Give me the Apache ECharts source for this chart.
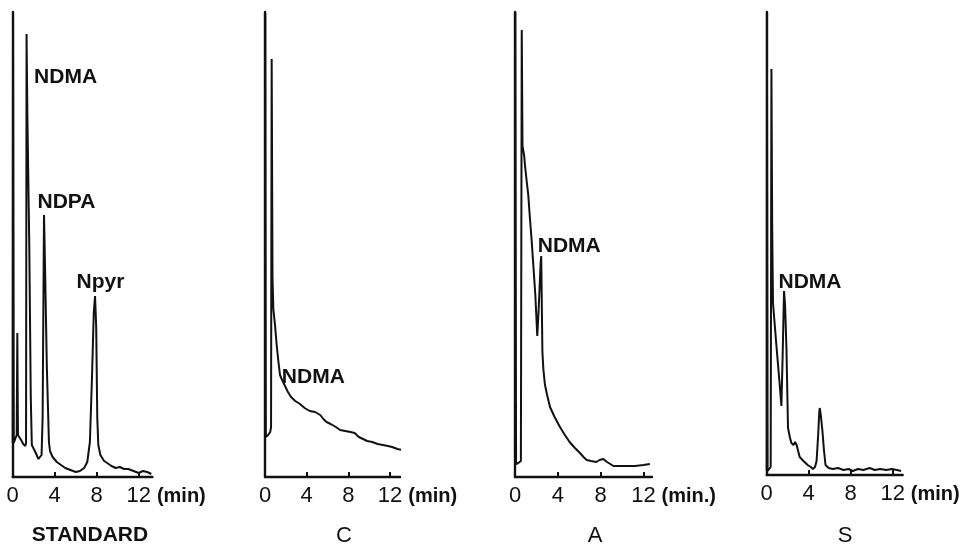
<!DOCTYPE html>
<html><head><meta charset="utf-8">
<script src="https://cdn.jsdelivr.net/npm/echarts@6/dist/echarts.min.js"></script>
<style>html,body{margin:0;padding:0;background:#fff;}#c{width:964px;height:547px;}</style>
</head><body><div id="c"></div>
<script>
// ---- data (retention time in min, detector response in arbitrary units) ----
const tickValues = [0, 4, 8, 12];
const panelTitles = ['STANDARD', 'C', 'A', 'S'];
const unitLabels = ['(min)', '(min)', '(min.)', '(min)'];

const stdTime   = [0, 0.03, 0.1, 0.25, 0.38, 0.44, 0.5, 0.6, 0.8, 1.0, 1.2, 1.27, 1.32, 1.4, 1.58, 1.72, 1.82, 1.95, 2.2, 2.45, 2.6, 2.75, 2.85, 2.98, 3.08, 3.25, 3.45, 3.55, 3.8, 4.2, 4.6, 5.0, 5.5, 6.0, 6.4, 6.8, 7.1, 7.35, 7.55, 7.72, 7.84, 7.95, 8.05, 8.15, 8.35, 8.7, 9.0, 9.4, 9.8, 10.2, 10.6, 11.0, 11.5, 12.0, 12.4, 12.8, 13.2];
const stdSignal = [34, 465, 34, 36, 42, 144, 42, 40, 37, 33, 31, 34, 443, 360, 230, 80, 32, 30, 24, 18, 17, 22, 60, 262, 210, 110, 35, 26, 20, 15, 12, 9, 7, 5, 6, 9, 15, 35, 100, 165, 181, 150, 60, 32, 22, 16, 14, 11, 9, 10, 8, 8, 6, 4, 6, 5, 3];
const stdPeakNames = ['NDMA', 'NDPA', 'Npyr'];
const stdPeakTimes = [1.32, 2.98, 7.84];

const cTime   = [0, 0.03, 0.08, 0.3, 0.5, 0.58, 0.64, 0.72, 0.8, 0.96, 1.12, 1.28, 1.44, 1.6, 1.92, 2.2, 2.5, 2.9, 3.36, 3.8, 4.3, 4.8, 5.3, 5.6, 5.9, 6.3, 6.8, 7.2, 7.7, 8.2, 8.6, 9.0, 9.4, 9.8, 10.3, 10.8, 11.3, 11.8, 12.2, 12.7, 13.2];
const cSignal = [40, 464, 40, 42, 45, 50, 418, 200, 168, 152, 132, 116, 102, 98, 91, 85, 80, 76, 73, 69, 66, 65, 62, 58, 55, 53, 50, 47, 46, 45, 44, 40, 38, 36, 35, 33, 32, 31, 30, 28, 27];
const cPeakNames = ['NDMA'];
const cPeakTimes = [0.8];

const aTime   = [0, 0.03, 0.1, 0.3, 0.55, 0.6, 0.63, 0.7, 0.78, 0.85, 0.93, 1.09, 1.24, 1.4, 1.56, 1.71, 1.9, 2.08, 2.2, 2.4, 2.45, 2.52, 2.56, 2.65, 2.8, 3.0, 3.27, 3.7, 4.2, 4.6, 5.1, 5.6, 6.07, 6.4, 6.7, 7.1, 7.6, 7.9, 8.25, 8.6, 9.2, 9.8, 10.5, 11.2, 12.0, 12.6];
const aSignal = [13, 465, 13, 14, 16, 18, 447, 331, 331, 322, 312, 296, 282, 258, 236, 212, 182, 141, 165, 215, 221, 221, 125, 108, 92, 82, 70, 60, 50, 43, 35, 29, 24, 20, 17, 16, 15, 17, 18, 15, 11, 11, 11, 11, 12, 13];
const aPeakNames = ['NDMA'];
const aPeakTimes = [2.45];

const sTime   = [0, 0.02, 0.08, 0.25, 0.38, 0.45, 0.52, 0.6, 0.76, 0.92, 1.08, 1.25, 1.4, 1.52, 1.65, 1.75, 1.88, 2.03, 2.2, 2.35, 2.55, 2.7, 2.85, 3.14, 3.5, 3.9, 4.2, 4.4, 4.6, 4.75, 4.9, 5.0, 5.05, 5.15, 5.3, 5.45, 5.6, 5.9, 6.3, 6.8, 7.3, 7.8, 8.2, 8.7, 9.2, 9.8, 10.3, 10.8, 11.4, 11.9, 12.4, 12.8];
const sSignal = [4, 463, 4, 6, 8, 406, 250, 172, 151, 130, 110, 89, 69, 120, 184, 170, 127, 47, 38, 32, 30, 33, 30, 18, 14, 10, 8, 6, 8, 14, 40, 62, 67, 60, 45, 25, 10, 7, 6, 7, 5, 6, 4, 6, 5, 7, 5, 6, 5, 6, 5, 4];
const sPeakNames = ['NDMA'];
const sPeakTimes = [1.65];

// ---- layout / style ----
const INK = '#111';
const FONT = 'Liberation Sans';
const panels = [
  { time: stdTime, signal: stdSignal, names: stdPeakNames, times: stdPeakTimes,
    grid: { left: 12.7, top: 12, width: 139.7, height: 465 }, xMax: 13.3, yMax: 465,
    offsets: [[7, 43], [-7, -13], [-19, -14]], titleX: 90, titleBold: true, nameGap: -2 },
  { time: cTime, signal: cSignal, names: cPeakNames, times: cPeakTimes,
    grid: { left: 265, top: 12, width: 135, height: 465 }, xMax: 12.95, yMax: 465,
    offsets: [[8, 68]], titleX: 344, titleBold: false, nameGap: 1 },
  { time: aTime, signal: aSignal, names: aPeakNames, times: aPeakTimes,
    grid: { left: 515, top: 12, width: 137, height: 465 }, xMax: 12.8, yMax: 465,
    offsets: [[-4, -10]], titleX: 595, titleBold: false, nameGap: 2 },
  { time: sTime, signal: sSignal, names: sPeakNames, times: sPeakTimes,
    grid: { left: 766.7, top: 12, width: 136, height: 463 }, xMax: 12.95, yMax: 463,
    offsets: [[-6, -9]], titleX: 845, titleBold: false, nameGap: -1 }
];

const grids = [], xAxes = [], yAxes = [], series = [], titles = [];
panels.forEach((p, i) => {
  grids.push(Object.assign({ outerBoundsMode: 'none', containLabel: false }, p.grid));
  xAxes.push({
    type: 'value', gridIndex: i, min: 0, max: p.xMax, interval: 4,
    name: unitLabels[i], nameLocation: 'end', nameGap: p.nameGap,
    nameTextStyle: { color: INK, fontFamily: FONT, fontSize: 20, fontWeight: 'bold',
      align: 'left', verticalAlign: 'top', padding: [9, 0, 0, 0] },
    axisLine: { show: true, lineStyle: { color: INK, width: 2.4 } },
    axisTick: { show: true, inside: true, length: 5, customValues: tickValues,
      lineStyle: { color: INK, width: 2 } },
    axisLabel: { show: true, customValues: tickValues, margin: 8, color: INK,
      fontFamily: FONT, fontSize: 22 },
    splitLine: { show: false }
  });
  yAxes.push({
    type: 'value', gridIndex: i, min: 0, max: p.yMax,
    axisLine: { show: true, onZero: false, lineStyle: { color: INK, width: 2.4 } },
    axisTick: { show: false }, axisLabel: { show: false }, splitLine: { show: false }
  });
  const data = p.time.map((t, k) => [t, p.signal[k]]);
  series.push({
    type: 'line', xAxisIndex: i, yAxisIndex: i, data: data,
    showSymbol: false, symbol: 'none', smooth: false, animation: false,
    lineStyle: { color: INK, width: 2 }, clip: false,
    markPoint: {
      symbol: 'circle', symbolSize: 1, itemStyle: { color: 'rgba(0,0,0,0)' },
      animation: false, silent: true,
      data: p.names.map((n, k) => {
        const t = p.times[k];
        const v = p.signal[p.time.indexOf(t)];
        return { coord: [t, v], value: n,
          label: { show: true, formatter: n, position: 'right', distance: 0,
            offset: p.offsets[k], color: INK, fontFamily: FONT, fontSize: 21, fontWeight: 'bold' } };
      })
    }
  });
  titles.push({
    text: panelTitles[i], left: p.titleX, top: 525, textAlign: 'center', padding: 0,
    textStyle: { color: INK, fontFamily: FONT, fontSize: p.titleBold ? 21 : 22,
      fontWeight: p.titleBold ? 'bold' : 'normal' }
  });
});

const chart = echarts.init(document.getElementById('c'), null, { renderer: 'canvas' });
chart.setOption({
  backgroundColor: '#fff', animation: false,
  title: titles, grid: grids, xAxis: xAxes, yAxis: yAxes, series: series
});
</script></body></html>
